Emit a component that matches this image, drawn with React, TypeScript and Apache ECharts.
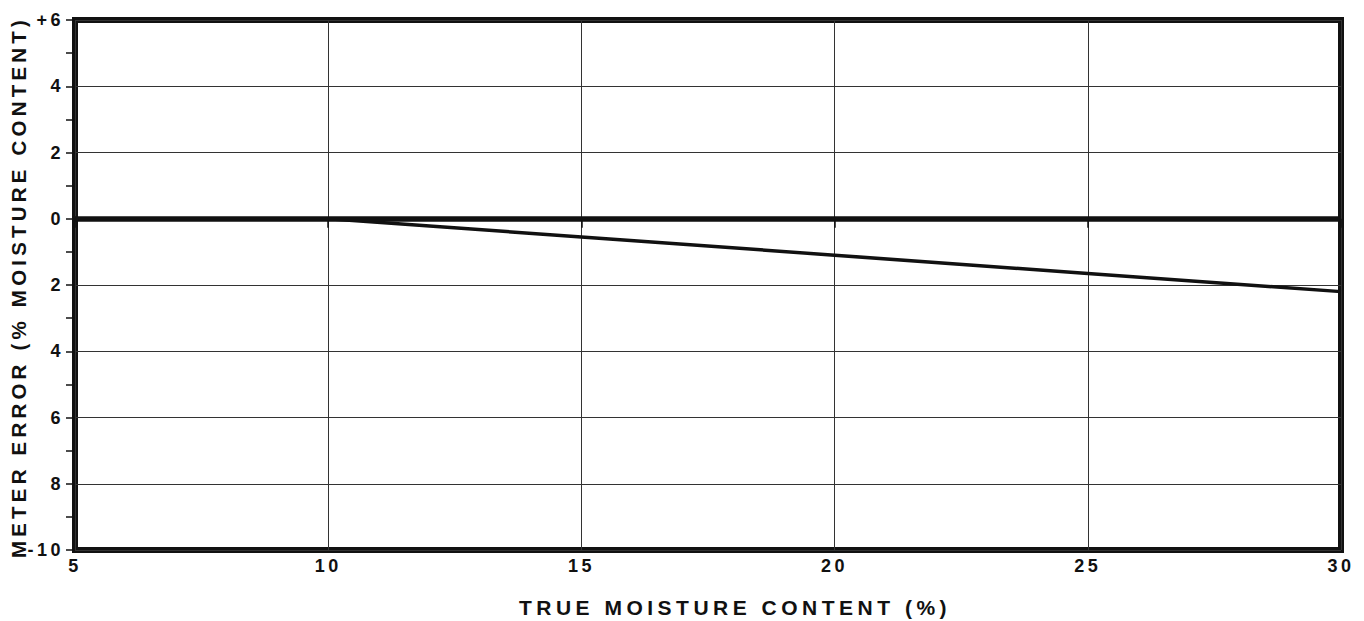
import React, { useEffect, useRef } from "react";
import * as echarts from "echarts";

const xValues = [10, 15, 20, 25, 30];
const errorValues = [0, -0.55, -1.1, -1.65, -2.2];
const yTickValues = [-10, -8, -6, -4, -2, 0, 2, 4, 6];
const yTickLabels = ["-10", "8", "6", "4", "2", "0", "2", "4", "+6"];
const xTitle = "TRUE MOISTURE CONTENT (%)";
const yTitle = "METER ERROR (% MOISTURE CONTENT)";

const FONT = "'Liberation Sans', Arial, sans-serif";

export default function App() {
  const ref = useRef<HTMLDivElement>(null);
  useEffect(() => {
    if (!ref.current) return;
    const chart = echarts.init(ref.current, undefined, { renderer: "svg" });
    chart.setOption({
      animation: false,
      backgroundColor: "#ffffff",
      grid: {
        left: 75,
        right: 23,
        top: 20,
        bottom: 71,
        show: true,
        borderColor: "#111",
        borderWidth: 6,
      },
      xAxis: {
        type: "value",
        min: 5,
        max: 30,
        interval: 5,
        axisLine: { show: false },
        axisTick: { show: true, inside: false, length: 9, lineStyle: { color: "#111", width: 1.5 } },
        axisLabel: {
          margin: 7,
          fontSize: 18,
          fontWeight: "bold",
          fontFamily: FONT,
          color: "#111",
        },
        splitLine: { show: true, lineStyle: { color: "#333", width: 1 } },
      },
      yAxis: {
        type: "value",
        min: -10,
        max: 6,
        interval: 2,
        axisLine: { show: false },
        axisTick: { show: true, inside: false, length: 9, lineStyle: { color: "#111", width: 1.5 } },
        minorTick: { show: true, splitNumber: 2, length: 9, lineStyle: { color: "#111", width: 1.5 } },
        axisLabel: {
          margin: 11,
          fontSize: 18,
          fontWeight: "bold",
          fontFamily: FONT,
          color: "#111",
          formatter: (v: number) => {
            const i = yTickValues.indexOf(Math.round(v));
            return i >= 0 ? yTickLabels[i] : "";
          },
        },
        splitLine: { show: true, lineStyle: { color: "#333", width: 1 } },
      },
      graphic: [
        {
          type: "text",
          x: 735,
          y: 607,
          style: {
            text: xTitle,
            fill: "#111",
            font: `bold 21px ${FONT}`,
            textAlign: "center",
            textVerticalAlign: "middle",
          },
        },
        {
          type: "text",
          x: 18,
          y: 287,
          rotation: Math.PI / 2,
          style: {
            text: yTitle,
            fill: "#111",
            font: `bold 20.5px ${FONT}`,
            textAlign: "center",
            textVerticalAlign: "middle",
          },
        },
      ],
      series: [
        {
          type: "line",
          data: xValues.map((x, i) => [x, errorValues[i]]),
          symbol: "none",
          lineStyle: { color: "#111", width: 3.5 },
          markLine: {
            silent: true,
            symbol: "none",
            label: { show: false },
            lineStyle: { color: "#111", width: 5.5, type: "solid" },
            data: [{ yAxis: 0 }],
          },
        },
      ],
    });
    return () => chart.dispose();
  }, []);
  return (
    <>
      <style>{`.chart-box text { letter-spacing: 3.5px; } .chart-box text[style*="21px"] { letter-spacing: 4.5px; } .chart-box text[style*="20.5px"] { letter-spacing: 4.2px; }`}</style>
      <div
        ref={ref}
        className="chart-box"
        style={{ position: "fixed", left: 0, top: 0, width: 1364, height: 621, background: "#fff" }}
      />
    </>
  );
}
